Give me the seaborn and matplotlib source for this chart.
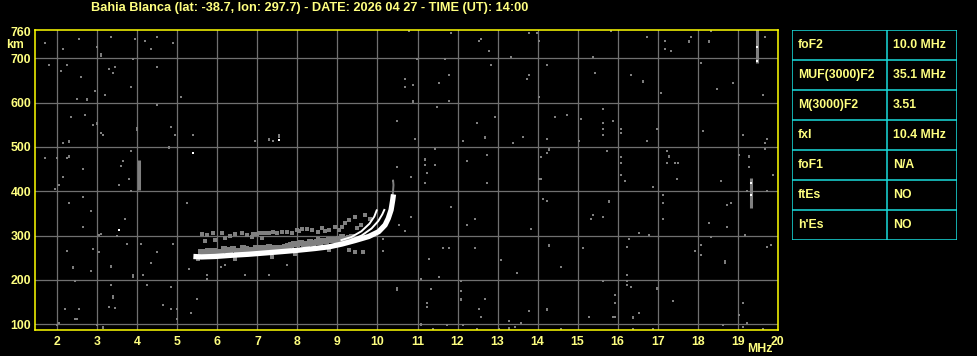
import matplotlib
matplotlib.use("Agg")
import matplotlib.pyplot as plt
import seaborn as sns
import pandas as pd
import numpy as np

# ---------------- data ----------------
title_text = "Bahia Blanca (lat: -38.7, lon: 297.7) - DATE: 2026 04 27 - TIME (UT): 14:00"
freq_ticks = [2, 3, 4, 5, 6, 7, 8, 9, 10, 11, 12, 13, 14, 15, 16, 17, 18, 19, 20]
height_ticks = [100, 200, 300, 400, 500, 600, 700, 760]

param_names = ["foF2", "MUF(3000)F2", "M(3000)F2", "fxI", "foF1", "ftEs", "h'Es"]
param_values = ["10.0 MHz", "35.1 MHz", "3.51", "10.4 MHz", "N/A", "NO", "NO"]

# main (thick) F2 trace
main_f = [5.40, 5.60, 5.94, 6.40, 6.78, 7.20, 7.61, 8.00, 8.44, 8.80, 9.11, 9.44, 9.78, 10.03, 10.19, 10.27, 10.34, 10.38, 10.40]
main_h = [253, 252, 253, 256, 258, 261, 264, 267, 271, 275, 281, 289, 298, 309, 324, 339, 358, 380, 393]
# faint top continuation of the trace
top_f = [10.38, 10.39, 10.40, 10.39]
top_h = [390, 402, 414, 424]
# thinner traces
thin1_f = [9.10, 9.35, 9.60, 9.80, 9.92, 9.98]
thin1_h = [290, 297, 310, 327, 343, 357]
thin2_f = [9.35, 9.60, 9.85, 10.02, 10.12, 10.17]
thin2_h = [291, 300, 316, 333, 348, 358]

# dense gray spread echo band just above the trace
band_f = [5.60, 5.68, 5.76, 5.84, 5.92, 6.00, 6.08, 6.16, 6.24, 6.32, 6.40, 6.48, 6.56, 6.64, 6.72, 6.80,
          6.88, 6.96, 7.04, 7.12, 7.20, 7.28, 7.36, 7.44, 7.52, 7.60, 7.68, 7.76, 7.84, 7.92, 8.00, 8.08,
          8.16, 8.24, 8.32, 8.40, 8.48, 8.56, 8.64, 8.72, 8.80, 8.88, 8.96, 9.04, 9.12, 9.20, 9.28, 9.36]
band_h = [264, 262, 265, 262, 266, 264, 264, 269, 267, 267, 269, 266, 266, 271, 269, 267,
          268, 273, 273, 273, 272, 274, 271, 273, 272, 271, 275, 276, 278, 282, 282, 283,
          281, 282, 285, 284, 285, 286, 287, 289, 290, 290, 291, 293, 296, 292, 295, 298]

# sparser gray spread echoes
echo_f = [5.61, 5.69, 5.74, 5.90, 5.94, 6.11, 6.19, 6.32, 6.44, 6.61, 6.73, 6.86, 7.03, 7.11, 7.15, 7.28,
          7.61, 7.73, 7.86, 7.98, 8.11, 8.24, 8.36, 8.52, 8.52, 8.78, 8.78, 8.94, 9.03, 9.11, 9.19, 9.28,
          9.44, 9.69, 9.82, 5.52, 6.44, 7.36, 7.94, 8.78, 9.28, 9.44, 9.65, 9.50, 9.58, 7.40, 7.48, 7.20,
          6.98, 6.90, 8.05, 8.62, 8.70]
echo_h = [304, 289, 301, 305, 290, 307, 294, 299, 304, 305, 301, 296, 305, 294, 307, 307,
          309, 309, 307, 313, 314, 316, 313, 309, 292, 313, 292, 320, 313, 320, 329, 335,
          343, 346, 337, 247, 248, 251, 259, 268, 268, 264, 262, 318, 325, 308, 305, 306,
          303, 304, 310, 317, 311]

# isolated gray noise specks
noise_f = [1.69, 2.54, 2.13, 1.79, 2.23, 2.09, 2.58, 2.49, 2.94, 2.33, 2.69, 2.89, 3.08, 3.13, 2.15, 1.69,
           1.98, 2.23, 2.13, 2.04, 1.94, 2.64, 2.64, 2.29, 2.83, 2.64, 3.03, 3.09, 3.48, 2.23, 2.89, 3.03,
           2.83, 2.43, 3.33, 3.28, 3.45, 2.19, 2.54, 2.49, 2.43, 2.04, 1.98, 2.98, 3.33, 2.98, 3.29, 3.43,
           3.38, 3.19, 3.54,
           3.94, 4.19, 4.48, 4.34, 4.89, 3.89, 4.48, 3.84, 5.09, 4.48, 4.84, 4.94, 5.39, 3.84, 3.64, 3.59,
           3.79, 6.94, 7.39, 10.79, 10.99, 11.69, 10.69, 10.89, 10.69, 11.54, 11.79, 11.79, 11.49, 10.49,
           10.94, 11.44, 11.19, 11.44, 10.49, 11.24, 10.84, 10.39,
           11.84, 12.54, 12.59, 12.79, 13.79, 13.99, 14.04, 13.34, 15.84, 16.74, 17.19, 17.84, 18.34, 17.19,
           17.34, 19.69, 15.39, 12.84, 14.24, 13.79, 13.74, 15.44, 16.34, 18.09, 18.89, 18.49, 17.09, 19.64,
           14.04, 15.64, 12.94, 14.44, 14.74, 15.09, 15.89, 15.64, 12.49, 15.64, 16.09, 16.09, 16.99, 18.14,
           19.14, 19.74, 19.69, 19.69, 15.64, 12.14, 13.39, 13.64, 14.24, 15.04, 16.74, 14.24, 14.09, 15.74,
           17.24, 17.24, 17.44, 17.50, 16.09, 16.09, 16.09, 16.19, 12.74, 12.24, 19.04, 19.29, 19.89, 17.49,
           18.59, 14.04, 14.09,
           3.84, 5.24, 3.69, 3.74, 4.09, 4.89, 4.49, 4.34, 5.29, 6.19, 6.09, 5.74, 5.74, 4.14, 6.69, 7.29,
           7.74, 4.24, 4.84, 5.49, 4.64, 4.84, 4.99, 5.34, 4.99, 11.34, 11.24, 11.24, 11.09, 11.54, 11.29,
           11.64, 11.79, 10.84, 10.54, 10.69, 10.14, 11.19, 11.39, 10.14,
           12.74, 11.84, 12.44, 12.24, 12.44, 13.09, 13.49, 13.84, 14.14, 14.24, 14.59, 15.14, 15.39, 15.34,
           15.64, 16.89, 17.14, 17.14, 17.14, 16.54, 16.79, 16.29, 16.24, 16.24, 16.24, 16.24, 16.34, 15.64,
           15.94, 15.94, 16.54, 15.89, 15.94, 17.39, 12.09, 12.09, 12.69, 12.54, 12.59, 13.79, 15.29, 13.29,
           13.59, 13.44, 13.04, 12.49, 11.74, 12.14, 14.59, 16.39, 16.89, 17.94, 18.09, 18.09, 18.34, 18.29,
           18.74, 18.74, 18.84, 19.19, 19.74, 19.84, 19.74, 19.24, 19.14, 19.04, 19.24, 19.14, 19.64, 18.64]
noise_h = [734, 743, 721, 686, 686, 672, 658, 608, 626, 568, 572, 550, 531, 528, 508, 474,
           474, 474, 433, 415, 405, 450, 387, 374, 356, 320, 301, 304, 299, 266, 270, 262,
           221, 198, 189, 140, 136, 135, 135, 113, 111, 104, 99, 99, 749, 726, 676, 681,
           666, 617, 414,
           743, 739, 749, 721, 734, 698, 681, 635, 613, 595, 545, 527, 527, 491, 468, 456,
           428, 513, 513, 762, 698, 698, 653, 640, 635, 644, 662, 604, 590, 559,
           518, 495, 459, 459, 455, 441, 432, 424,
           757, 739, 744, 716, 757, 757, 739, 703, 762, 748, 739, 748, 762, 721,
           716, 748, 703, 685, 685, 662, 653, 667, 662, 689, 644, 631, 622, 617,
           613, 586, 568, 568, 572, 563, 559, 554, 554, 541, 541, 532, 541, 536,
           527, 518, 509, 495, 527, 513, 509, 523, 518, 513, 513, 486, 477, 491,
           491, 464, 464, 464, 477, 464, 437, 424, 482, 468, 482, 455, 437, 428,
           424, 428, 428,
           400, 374, 338, 281, 281, 281, 262, 239, 225, 234, 230, 212, 203, 212, 212, 212,
           234, 189, 185, 158, 144, 135, 135, 126, 113, 180, 149, 140, 203, 207, 248,
           271, 271, 343, 325, 311, 266, 419, 90, 293,
           419, 365, 338, 325, 271, 244, 216, 316, 383, 379, 230, 271, 347, 338,
           343, 410, 392, 374, 338, 307, 302, 293, 275, 212, 198, 189, 185, 198,
           167, 149, 126, 117, 117, 153, 198, 176, 158, 135, 117, 131, 117, 108,
           104, 95, 90, 90, 99, 99, 90, 90, 90, 266, 280, 257, 298, 329,
           320, 370, 374, 302, 275, 280, 401, 401, 149, 122, 104, 95, 90, 99]

# short vertical gray streaks: frequency, bottom and top heights
streak_f = [2.73, 2.98, 2.29, 2.29, 2.38, 3.33, 3.38, 3.13, 3.09, 3.99, 4.79, 7.29, 7.54, 17.79, 18.29,
            16.64, 10.89, 11.19, 12.69, 14.29, 17.29, 19.29, 3.89, 10.49, 11.09, 14.29, 15.79, 16.39,
            16.99, 12.09, 14.24, 13.29, 18.69]
streak_lo = [603, 549, 509, 475, 224, 226, 157, 89, 704, 537, 495, 513, 520, 734, 734,
             644, 599, 468, 518, 490, 474, 476, 205, 176, 96, 274, 373, 111,
             177, 153, 130, 88, 236]
streak_hi = [610, 557, 516, 482, 232, 234, 165, 97, 711, 545, 502, 520, 530, 741, 741,
             651, 606, 475, 525, 497, 481, 483, 213, 184, 104, 281, 381, 118,
             184, 160, 137, 95, 244]
# long vertical streaks
long_f = [4.03, 19.49, 19.34]
long_lo = [403, 690, 362]
long_hi = [470, 766, 430]

# white dots
white_f = [5.39, 7.54, 3.54, 19.49, 19.49, 19.34, 19.34]
white_h = [486, 516, 313, 725, 694, 419, 392]

# ---------------- style ----------------
BG = "black"
TXT = "#FFFF80"
SPINE = "#FFFF00"
GRID = "#707070"
SPECK = "#808080"
CYAN = "#19DCDC"
FS = 8.8
plt.rcParams["font.family"] = ["Liberation Sans", "DejaVu Sans"]
plt.rcParams["font.weight"] = "bold"

W, H = 978, 356
fig = plt.figure(figsize=(W / 100, H / 100), dpi=100, facecolor=BG)

x0, x1, y0, y1 = 35.3, 777.7, 29.7, 330.3
ax = fig.add_axes([x0 / W, 1 - y1 / H, (x1 - x0) / W, (y1 - y0) / H])
ax.set_facecolor(BG)
ax.set_xlim(1.45, 20.0)
ax.set_ylim(86.5, 764.5)

ax.set_xticks(freq_ticks)
ax.set_xticklabels([str(v) for v in freq_ticks])
ax.set_yticks(height_ticks)
ax.set_yticklabels([str(v) for v in height_ticks])
ax.tick_params(axis="both", length=0, colors=TXT, labelsize=FS)
ax.tick_params(axis="x", pad=4.2)
ax.tick_params(axis="y", pad=3)
for lab in ax.get_xticklabels() + ax.get_yticklabels():
    lab.set_fontweight("bold")
ax.grid(True, color=GRID, lw=0.9)
ax.set_axisbelow(True)
ax.get_ygridlines()[-1].set_visible(False)
for s in ax.spines.values():
    s.set_color(SPINE)
    s.set_linewidth(1.1)
    s.set_zorder(10)

# noise
sns.scatterplot(x=noise_f, y=noise_h, ax=ax, marker="s", s=3.5, color=SPECK, linewidth=0, legend=False, zorder=3)
ax.vlines(streak_f, streak_lo, streak_hi, colors=SPECK, lw=1.4, zorder=3)
ax.vlines(long_f, long_lo, long_hi, colors=SPECK, lw=2.2, zorder=3)

# spread echoes
sns.scatterplot(x=band_f, y=band_h, ax=ax, marker="s", s=22, color=SPECK, linewidth=0, legend=False, zorder=4)
sns.scatterplot(x=echo_f, y=echo_h, ax=ax, marker="s", s=6, color=SPECK, linewidth=0, legend=False, zorder=4)

# traces
df_main = pd.DataFrame({"f": main_f, "h": main_h})
sns.lineplot(data=df_main, x="f", y="h", ax=ax, sort=False, estimator=None, color="white", lw=3.8,
             solid_capstyle="butt", zorder=6)
sns.lineplot(x=top_f, y=top_h, ax=ax, sort=False, estimator=None, color=SPECK, lw=1.4, zorder=5)
sns.lineplot(x=thin1_f, y=thin1_h, ax=ax, sort=False, estimator=None, color="white", lw=1.4, zorder=6)
sns.lineplot(x=thin2_f, y=thin2_h, ax=ax, sort=False, estimator=None, color="white", lw=1.4, zorder=6)
sns.scatterplot(x=white_f, y=white_h, ax=ax, marker="s", s=4, color="white", linewidth=0, legend=False, zorder=7)
ax.set_xlabel("")
ax.set_ylabel("")

# header and unit labels
fig.text(310 / W, 1 - 7.5 / H, title_text, color=TXT, fontsize=9.2, fontweight="bold", ha="center", va="center")
fig.text(6 / W, 1 - 45 / H, "km", color=TXT, fontsize=FS, fontweight="bold", ha="left", va="center")
fig.text(760 / W, 1 - 349 / H, "MHz", color=TXT, fontsize=FS, fontweight="bold", ha="center", va="center")

# parameter table
tx0, tx1, ty0, ty1 = 792.3, 957.3, 30.3, 240.3
tab = fig.add_axes([tx0 / W, 1 - ty1 / H, (tx1 - tx0) / W, (ty1 - ty0) / H])
tab.set_facecolor(BG)
tab.set_xlim(0, tx1 - tx0)
tab.set_ylim(ty1 - ty0, 0)
tab.axis("off")
nrow = len(param_names)
rh = (ty1 - ty0) / nrow
tab.hlines([i * rh for i in range(nrow + 1)], 0, tx1 - tx0, colors=CYAN, lw=1.1)
tab.vlines([0, 95, tx1 - tx0], 0, ty1 - ty0, colors=CYAN, lw=1.1)
for i, (n, v) in enumerate(zip(param_names, param_values)):
    tab.text(5.5, (i + 0.5) * rh, n, color=TXT, fontsize=FS, fontweight="bold", ha="left", va="center")
    tab.text(100.5, (i + 0.5) * rh, v, color=TXT, fontsize=FS, fontweight="bold", ha="left", va="center")

fig.savefig("out.png", dpi=100, facecolor=BG)
